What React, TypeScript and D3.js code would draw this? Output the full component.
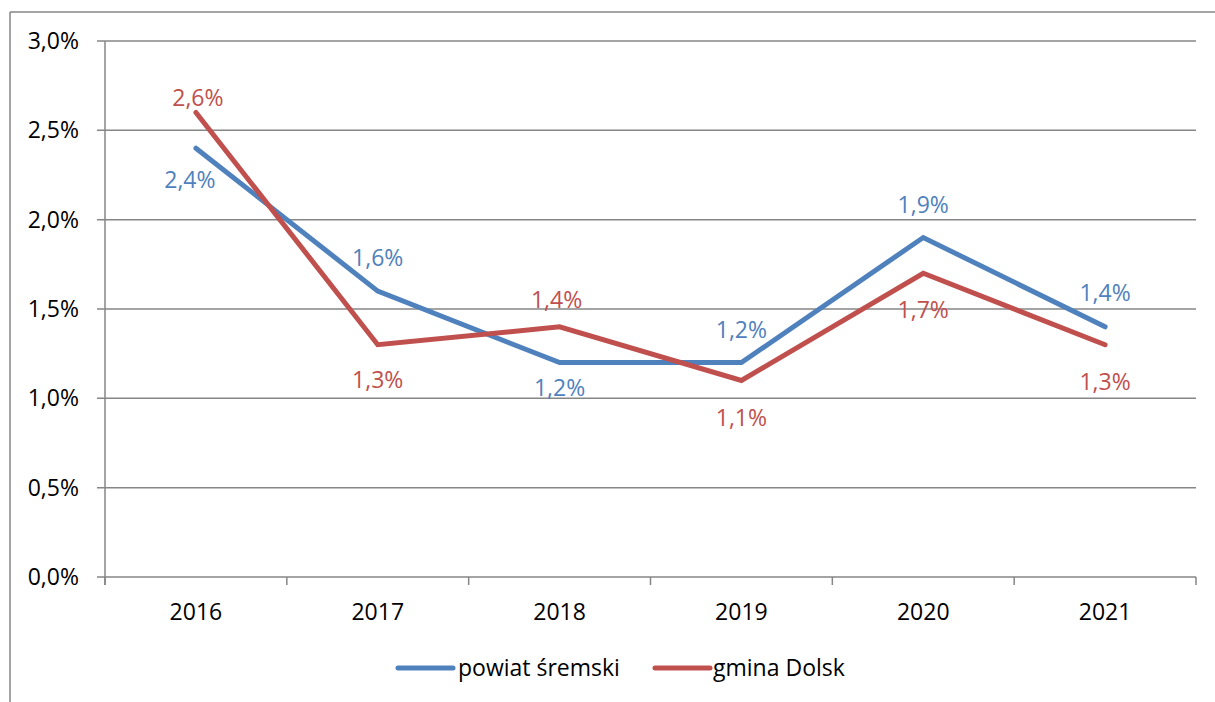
import React from "react";
import * as d3 from "d3";

const years = ["2016", "2017", "2018", "2019", "2020", "2021"];
const powiat = [2.4, 1.6, 1.2, 1.2, 1.9, 1.4];
const gmina = [2.6, 1.3, 1.4, 1.1, 1.7, 1.3];
const yTicks = [0, 0.5, 1.0, 1.5, 2.0, 2.5, 3.0];
const seriesNames = ["powiat śremski", "gmina Dolsk"];
const colors = ["#4F81BD", "#C0504D"];
// label offsets (px) relative to point
const powiatDy = [32, -33, 25, -33, -33, -34];
const powiatDx = [-6, 0, 0, 0, 0, 0];
const gminaDy = [-15, 35, -27, 37, 37, 37];
const gminaDx = [2, 0, -3, 0, 0, 0];

const W = 1215, H = 702;
const left = 105, right = 1196, top = 41, bottom = 577;
const FONT = "'Open Sans', sans-serif";
const FS = 23;

const fmt = (v: number) => v.toFixed(1).replace(".", ",") + "%";

export default function App() {
  const x = d3.scaleBand<string>().domain(years).range([left, right]);
  const y = d3.scaleLinear().domain([0, 3]).range([bottom, top]);
  const cx = (d: string) => (x(d) as number) + x.bandwidth() / 2;
  const line = d3
    .line<number>()
    .x((_, i) => cx(years[i]))
    .y((v) => y(v));
  const grid = "#868686";
  const series = [
    { vals: powiat, dy: powiatDy, dx: powiatDx },
    { vals: gmina, dy: gminaDy, dx: gminaDx },
  ];
  const boundaries = years.map((d) => x(d) as number).concat([right]);
  const legendItems = [
    { x1: 398, x2: 453, tx: 458 },
    { x1: 655, x2: 710, tx: 713 },
  ];
  return (
    <svg
      width={W}
      height={H}
      style={{ position: "absolute", left: 0, top: 0, background: "#fff" }}
      fontFamily={FONT}
    >
      <rect x={0} y={0} width={W} height={H} fill="#fff" />
      {/* outer frame */}
      <line x1={10} y1={12} x2={W} y2={12} stroke={grid} strokeWidth={1.5} />
      <line x1={10} y1={12} x2={10} y2={H} stroke={grid} strokeWidth={1.5} />
      {/* gridlines */}
      {yTicks.map((t) => (
        <g key={t}>
          <line x1={97} x2={right} y1={y(t)} y2={y(t)} stroke={grid} strokeWidth={1.5} />
          <text x={79} y={y(t)} dy="0.35em" textAnchor="end" fontSize={FS} fill="#000">
            {fmt(t)}
          </text>
        </g>
      ))}
      {/* y axis */}
      <line x1={left} x2={left} y1={top} y2={bottom + 8} stroke={grid} strokeWidth={1.5} />
      {boundaries.map((b, i) => (
        <line key={i} x1={b} x2={b} y1={bottom} y2={bottom + 8} stroke={grid} strokeWidth={1.5} />
      ))}
      {years.map((d) => (
        <text key={d} x={cx(d)} y={612} dy="0.35em" textAnchor="middle" fontSize={FS} fill="#000">
          {d}
        </text>
      ))}
      {series.map((s, si) => (
        <path
          key={si}
          d={line(s.vals) as string}
          fill="none"
          stroke={colors[si]}
          strokeWidth={5}
          strokeLinejoin="miter"
          strokeLinecap="round"
        />
      ))}
      {series.map((s, si) =>
        s.vals.map((v, i) => (
          <text
            key={si + "-" + i}
            x={cx(years[i]) + s.dx[i]}
            y={y(v) + s.dy[i]}
            dy="0.35em"
            textAnchor="middle"
            fontSize={FS}
            fill={colors[si]}
          >
            {fmt(v)}
          </text>
        ))
      )}
      {/* legend */}
      {legendItems.map((l, i) => (
        <g key={i}>
          <line x1={l.x1} x2={l.x2} y1={668} y2={668} stroke={colors[i]} strokeWidth={5} strokeLinecap="round" />
          <text x={l.tx} y={668} dy="0.35em" fontSize={FS} fill="#000">
            {seriesNames[i]}
          </text>
        </g>
      ))}
    </svg>
  );
}
